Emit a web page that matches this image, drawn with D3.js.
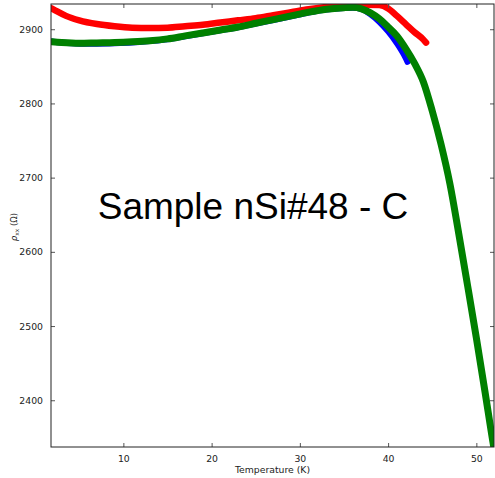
<!DOCTYPE html>
<html>
<head>
<meta charset="utf-8">
<script src="https://cdn.jsdelivr.net/npm/d3@7"></script>
<style>
  body { margin: 0; background: white; }
  svg { display: block; }
</style>
</head>
<body>
<svg></svg>
<script>
// temperature (K) / resistivity (Ohm)
var redT   = [1.9, 2.5, 3.5, 5, 7, 9, 11, 13, 15, 17, 19, 21, 23, 25, 27, 29, 31, 33, 35, 37, 39, 40, 41, 42, 43, 44, 44.3];
var redRho = [2928, 2924, 2918, 2912, 2907, 2904, 2902, 2901.5, 2902, 2904, 2906, 2909, 2912, 2915, 2919, 2923, 2927, 2930, 2932, 2933, 2932.5, 2928, 2918, 2907, 2896, 2886, 2882];

var blueT   = [1.9, 3, 5, 7, 9, 11, 13, 15, 17, 19, 21, 23, 25, 27, 29, 31, 33, 35, 36, 37, 38, 39, 40, 41, 42, 42.2];
var blueRho = [2883.5, 2882, 2880.5, 2880.5, 2881, 2882, 2884, 2886.5, 2890.5, 2894.5, 2898.5, 2902.5, 2907.5, 2912.5, 2917.5, 2922.5, 2926.5, 2928.5, 2929, 2927, 2920, 2910, 2897, 2881, 2861, 2856];

var greenT   = [1.9, 3, 5, 7, 9, 11, 13, 15, 17, 19, 21, 23, 25, 27, 29, 31, 33, 35, 36, 37, 38, 39, 40, 41, 42, 43, 44, 45, 46, 47, 48, 49, 50, 51, 51.9, 52];
var greenRho = [2883, 2882, 2881, 2881.5, 2882, 2883, 2884.5, 2887, 2891, 2895, 2899, 2903, 2908, 2913, 2918, 2923, 2927, 2929, 2929.5, 2927.5, 2922, 2914, 2903, 2891, 2874, 2854, 2829, 2790, 2745, 2692, 2625, 2555, 2484, 2410, 2342, 2335];

var xTicks = [10, 20, 30, 40, 50];
var yTicks = [2400, 2500, 2600, 2700, 2800, 2900];
var title = "Sample nSi#48 - C";

var W = 495, H = 478;
var pL = 51, pR = 494, pT = 4, pB = 447;
var font = "DejaVu Sans, sans-serif";

var svg = d3.select("svg").attr("width", W).attr("height", H);

var x = d3.scaleLinear().domain([1.8, 52]).range([pL, pR]);
var y = d3.scaleLinear().domain([2337, 2934]).range([pB, pT]);

svg.append("clipPath").attr("id", "clip")
  .append("rect").attr("x", pL).attr("y", pT)
  .attr("width", pR - pL).attr("height", pB - pT);

var line = d3.line()
  .x(function(d) { return x(d[0]); })
  .y(function(d) { return y(d[1]); })
  .curve(d3.curveMonotoneX);

var series = [
  {t: redT, r: redRho, c: "#ff0000", w: 6.5},
  {t: blueT, r: blueRho, c: "#0000ff", w: 6},
  {t: greenT, r: greenRho, c: "#008000", w: 7}
];

var plot = svg.append("g").attr("clip-path", "url(#clip)");
series.forEach(function(s) {
  var pts = s.t.map(function(t, i) { return [t, s.r[i]]; });
  plot.append("path")
    .attr("d", line(pts))
    .attr("fill", "none")
    .attr("stroke", s.c)
    .attr("stroke-width", s.w)
    .attr("stroke-linecap", "round")
    .attr("stroke-linejoin", "round");
});

// axes, ticks inward on all four sides
var xb = d3.axisBottom(x).tickValues(xTicks).tickSizeInner(-4).tickSizeOuter(0).tickPadding(8);
var xt = d3.axisTop(x).tickValues(xTicks).tickSizeInner(-4).tickSizeOuter(0).tickFormat("");
var yl = d3.axisLeft(y).tickValues(yTicks).tickSizeInner(-4).tickSizeOuter(0).tickPadding(8).tickFormat(d3.format("d"));
var yr = d3.axisRight(y).tickValues(yTicks).tickSizeInner(-4).tickSizeOuter(0).tickFormat("");

svg.append("g").attr("transform", "translate(0," + pB + ")").call(xb);
svg.append("g").attr("transform", "translate(0," + pT + ")").call(xt);
svg.append("g").attr("transform", "translate(" + pL + ",0)").call(yl);
svg.append("g").attr("transform", "translate(" + pR + ",0)").call(yr);

svg.selectAll(".domain").remove();
svg.selectAll(".tick line").attr("stroke", "#555");
svg.selectAll(".tick text").attr("font-size", "9.3px").attr("fill", "#222")
  .attr("font-family", font);

svg.append("rect")
  .attr("x", pL).attr("y", pT)
  .attr("width", pR - pL).attr("height", pB - pT)
  .attr("fill", "none").attr("stroke", "#222").attr("stroke-width", 1);

svg.append("text")
  .attr("x", (pL + pR) / 2).attr("y", 473)
  .attr("text-anchor", "middle").attr("font-size", "9.3px").attr("fill", "#222")
  .attr("font-family", font)
  .text("Temperature (K)");

var yl2 = svg.append("text")
  .attr("transform", "translate(17,227) rotate(-90)")
  .attr("text-anchor", "middle").attr("font-size", "8.5px").attr("fill", "#222")
  .attr("font-family", font);
yl2.append("tspan").attr("font-style", "italic").text("\u03C1");
yl2.append("tspan").attr("font-size", "6px").attr("dy", 2).text("xx");
yl2.append("tspan").attr("dy", -2).text(" (\u03A9)");

svg.append("text")
  .attr("x", 253).attr("y", 219)
  .attr("text-anchor", "middle")
  .attr("font-family", "Liberation Sans, Arial, sans-serif")
  .attr("font-size", "37px").attr("fill", "#000")
  .text(title);
</script>
</body>
</html>
